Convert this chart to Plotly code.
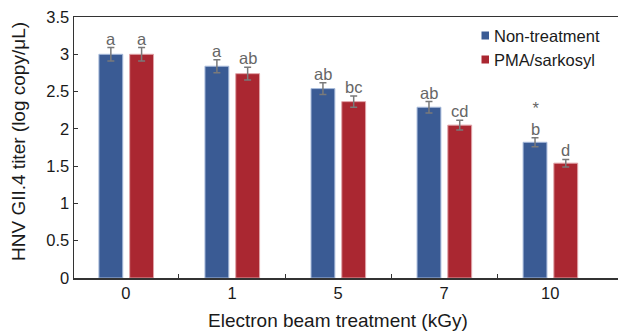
import plotly.graph_objects as go

doses = ["0", "1", "5", "7", "10"]
non_treatment = [3.00, 2.84, 2.54, 2.29, 1.82]
non_treatment_err = [0.09, 0.087, 0.078, 0.076, 0.06]
pma_sarkosyl = [3.00, 2.74, 2.365, 2.05, 1.54]
pma_sarkosyl_err = [0.09, 0.085, 0.074, 0.067, 0.05]
non_letters = ["a", "a", "ab", "ab", "*<br>b"]
pma_letters = ["a", "ab", "bc", "cd", "d"]
series_names = ["Non-treatment", "PMA/sarkosyl"]
y_ticks = [0, 0.5, 1, 1.5, 2, 2.5, 3, 3.5]
y_ticktext = ["0", "0.5", "1", "1.5", "2", "2.5", "3", "3.5"]

FONT = "Arial, Liberation Sans, sans-serif"
BLUE = "#3a5b94"
RED = "#aa2731"
GRAY_ERR = "#7a7a7a"
GRAY_TXT = "#666666"
BLACK = "#1a1a1a"

W_PX, H_PX = 618, 333
ML, MR, MT, MB = 74, 0, 17, 55

xpos = list(range(len(doses)))
W = 0.225
OFF_B = -0.255
OFF_R = 0.035

fig = go.Figure()
fig.add_trace(go.Bar(
    x=xpos, y=non_treatment, name=series_names[0],
    width=W, offset=OFF_B,
    marker=dict(color=BLUE, line=dict(color="#a9bcdc", width=1)),
    error_y=dict(type="data", array=non_treatment_err, color=GRAY_ERR, thickness=1.5, width=3.5),
))
fig.add_trace(go.Bar(
    x=xpos, y=pma_sarkosyl, name=series_names[1],
    width=W, offset=OFF_R,
    marker=dict(color=RED, line=dict(color="#e0a3a8", width=1)),
    error_y=dict(type="data", array=pma_sarkosyl_err, color=GRAY_ERR, thickness=1.5, width=3.5),
))

for i in xpos:
    fig.add_annotation(x=i + OFF_B + W / 2, y=non_treatment[i] + non_treatment_err[i],
                       text=non_letters[i], showarrow=False, yanchor="bottom",
                       yshift=-2, font=dict(family=FONT, size=16.5, color=GRAY_TXT))
    fig.add_annotation(x=i + OFF_R + W / 2, y=pma_sarkosyl[i] + pma_sarkosyl_err[i],
                       text=pma_letters[i], showarrow=False, yanchor="bottom",
                       yshift=-2, font=dict(family=FONT, size=16.5, color=GRAY_TXT))

# paper-coordinate helpers
pw = W_PX - ML - MR
ph = H_PX - MT - MB
def px(xp):
    return (xp - ML) / pw
def py(yp):
    return (H_PX - MB - yp) / ph

# legend (manual)
leg_colors = [BLUE, RED]
leg_y = [35.5, 59.5]
for name, col, yc in zip(series_names, leg_colors, leg_y):
    fig.add_shape(type="rect", xref="paper", yref="paper",
                  x0=px(481.5), x1=px(489), y0=py(yc + 4), y1=py(yc - 4),
                  fillcolor=col, line=dict(width=0))
    fig.add_annotation(xref="paper", yref="paper", x=px(492), y=py(yc),
                       text=name, showarrow=False, xanchor="left", yanchor="middle",
                       font=dict(family=FONT, size=16.5, color=BLACK))

# axis titles
fig.add_annotation(xref="paper", yref="paper", x=px(338), y=py(320),
                   text="Electron beam treatment (kGy)", showarrow=False,
                   xanchor="center", yanchor="middle",
                   font=dict(family=FONT, size=19, color=BLACK))
fig.add_annotation(xref="paper", yref="paper", x=px(18), y=py(142),
                   text="HNV GII.4 titer (log copy/μL)", showarrow=False, textangle=-90,
                   xanchor="center", yanchor="middle",
                   font=dict(family=FONT, size=19, color=BLACK))

fig.update_layout(
    width=W_PX, height=H_PX,
    margin=dict(l=ML, r=MR, t=MT, b=MB, autoexpand=False),
    plot_bgcolor="white", paper_bgcolor="white",
    font=dict(family=FONT, size=16.5, color=BLACK),
    showlegend=False,
    bargap=0,
)
fig.update_xaxes(
    range=[-0.49, 4.64], tickmode="array", tickvals=xpos, ticktext=doses,
    ticks="", showline=True, linecolor="#333333", linewidth=1.5, mirror=True,
    showgrid=False, zeroline=False, automargin=False,
    minor=dict(tickvals=[0.5, 1.5, 2.5, 3.5], ticks="inside", ticklen=4, tickcolor="#333333", tickwidth=1),
    tickfont=dict(family=FONT, size=16.5, color=BLACK),
)
fig.update_yaxes(
    range=[0, 3.5], tickmode="array", tickvals=y_ticks, ticktext=y_ticktext,
    ticks="inside", ticklen=4, tickcolor="#333333", showline=True, linecolor="#333333",
    linewidth=1.5, showgrid=False, zeroline=False, automargin=False,
    tickfont=dict(family=FONT, size=16.5, color=BLACK),
)

fig.write_html("out.html",
               config={"displayModeBar": False, "staticPlot": True},
               post_script="document.body.style.margin='0';document.body.style.overflow='hidden';")
